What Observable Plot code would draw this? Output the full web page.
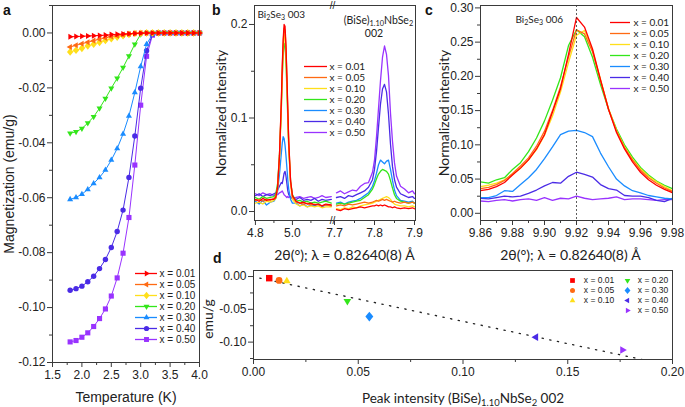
<!DOCTYPE html>
<html><head><meta charset="utf-8">
<script src="https://cdn.jsdelivr.net/npm/d3@7"></script>
<script src="https://cdn.jsdelivr.net/npm/@observablehq/plot@0.6"></script>
<style>
html,body{margin:0;padding:0;background:#fff;}
#fig{position:relative;width:685px;height:407px;overflow:hidden;font-family:"Liberation Sans",Arial,sans-serif;}
.lbl{position:absolute;font-weight:bold;font-size:14px;line-height:14px;color:#111;font-family:"Liberation Sans",Arial,sans-serif;}
</style></head><body><div id="fig"></div>
<script>
// ---------- shared series ----------
const seriesLabels = ["x = 0.01","x = 0.05","x = 0.10","x = 0.20","x = 0.30","x = 0.40","x = 0.50"];
const seriesColors = ["#ff0000","#ff6a13","#ffdf1a","#33e61a","#1a8cff","#4a2be6","#9933ff"];

// ---------- panel a: magnetization vs temperature ----------
const aTemp = [1.8,1.9,2.0,2.1,2.2,2.3,2.4,2.5,2.6,2.7,2.8,2.9,3.0,3.1,3.2,3.3,3.4,3.5,3.6,3.7,3.8,3.9,4.0];
const aM001 = [-0.0014,-0.0013,-0.0012,-0.0011,-0.0010,-0.0009,-0.0008,-0.0006,-0.0005,-0.0004,-0.0003,-0.0002,-0.0001,0,0,0,0,0,0,0,0,0,0];
const aM005 = [-0.0051,-0.0045,-0.0039,-0.0034,-0.0028,-0.0023,-0.0018,-0.0013,-0.0010,-0.0006,-0.0004,-0.0001,0,0,0,0,0,0,0,0,0,0,0];
const aM010 = [-0.0069,-0.0063,-0.0056,-0.0047,-0.0041,-0.0034,-0.0027,-0.0021,-0.0015,-0.0010,-0.0005,-0.0002,-0.0001,0,0,0,0,0,0,0,0,0,0];
const aM020 = [-0.0365,-0.0360,-0.0348,-0.0328,-0.0305,-0.0274,-0.0239,-0.0201,-0.0165,-0.0126,-0.0084,-0.0041,-0.0005,0,0,0,0,0,0,0,0,0,0];
const aM030 = [-0.0606,-0.0599,-0.0587,-0.0570,-0.0548,-0.0526,-0.0499,-0.0463,-0.0421,-0.0368,-0.0302,-0.0217,-0.0122,-0.0041,-0.0005,0,0,0,0,0,0,0,0];
const aM040 = [-0.0937,-0.0931,-0.0922,-0.0906,-0.0886,-0.0858,-0.0825,-0.0781,-0.0723,-0.0645,-0.0526,-0.0375,-0.0201,-0.0065,-0.0005,0,0,0,0,0,0,0,0];
const aM050 = [-0.1125,-0.1120,-0.1108,-0.1092,-0.1069,-0.1040,-0.1005,-0.0958,-0.0892,-0.0802,-0.0672,-0.0481,-0.0263,-0.0085,-0.0008,0,0,0,0,0,0,0,0];
const aXTicks = [1.5,2.0,2.5,3.0,3.5,4.0];
const aXMinor = [1.75,2.25,2.75,3.25,3.75];
const aYTicks = [0,-0.02,-0.04,-0.06,-0.08,-0.10,-0.12];
const aYMinor = [0.01,-0.01,-0.03,-0.05,-0.07,-0.09,-0.11];

// ---------- panel b: XRD broken axis ----------
const bLx = [4.80,4.82,4.84,4.86,4.88,4.90,4.91,4.92,4.93,4.94,4.945,4.95,4.955,4.96,4.965,4.97,4.975,4.98,4.99,5.00,5.02,5.04,5.06,5.08,5.10,5.12,5.14,5.16,5.18,5.21];
const bL001 = [0.013,0.011,0.014,0.012,0.013,0.013,0.015,0.026,0.060,0.118,0.155,0.184,0.200,0.198,0.178,0.146,0.110,0.075,0.033,0.017,0.011,0.009,0.010,0.008,0.009,0.007,0.008,0.006,0.008,0.007];
const bL005 = [0.012,0.013,0.011,0.013,0.012,0.014,0.016,0.027,0.060,0.116,0.152,0.180,0.196,0.194,0.175,0.143,0.108,0.074,0.032,0.016,0.010,0.009,0.008,0.009,0.007,0.008,0.007,0.006,0.007,0.006];
const bL010 = [0.009,0.010,0.008,0.011,0.010,0.012,0.014,0.024,0.056,0.110,0.145,0.173,0.189,0.187,0.168,0.137,0.103,0.070,0.029,0.013,0.008,0.006,0.007,0.005,0.006,0.005,0.006,0.004,0.005,0.005];
const bL020 = [0.015,0.013,0.016,0.014,0.015,0.016,0.019,0.030,0.060,0.110,0.142,0.167,0.180,0.178,0.160,0.131,0.099,0.068,0.032,0.018,0.011,0.012,0.010,0.011,0.009,0.010,0.009,0.010,0.011,0.009];
const bL030 = [0.011,0.008,0.012,0.007,0.010,0.011,0.014,0.022,0.040,0.062,0.073,0.080,0.078,0.071,0.060,0.047,0.034,0.024,0.013,0.009,0.009,0.006,0.008,0.005,0.007,0.006,0.008,0.005,0.007,0.006];
const bL040 = [0.017,0.019,0.016,0.018,0.017,0.019,0.020,0.023,0.027,0.031,0.030,0.035,0.041,0.043,0.038,0.030,0.022,0.018,0.015,0.014,0.013,0.015,0.012,0.013,0.012,0.014,0.011,0.013,0.012,0.013];
const bL050 = [0.019,0.017,0.020,0.018,0.019,0.017,0.019,0.018,0.020,0.021,0.022,0.020,0.018,0.017,0.016,0.015,0.016,0.015,0.016,0.014,0.015,0.016,0.014,0.015,0.016,0.014,0.015,0.017,0.015,0.016];
const bRx = [7.705,7.715,7.725,7.735,7.745,7.755,7.765,7.775,7.785,7.795,7.80,7.805,7.81,7.815,7.82,7.825,7.83,7.835,7.84,7.845,7.85,7.855,7.865,7.875,7.885,7.895,7.90];
const bR001 = [0.002,0.001,0.003,0.002,0.003,0.004,0.005,0.004,0.005,0.006,0.006,0.007,0.006,0.007,0.006,0.007,0.006,0.005,0.005,0.004,0.005,0.004,0.003,0.004,0.003,0.004,0.003];
const bR005 = [0.006,0.007,0.006,0.008,0.007,0.008,0.009,0.010,0.009,0.010,0.011,0.012,0.011,0.012,0.013,0.012,0.013,0.012,0.011,0.010,0.011,0.010,0.009,0.010,0.009,0.010,0.009];
const bR010 = [0.003,0.002,0.004,0.003,0.005,0.004,0.006,0.007,0.008,0.009,0.010,0.011,0.012,0.013,0.014,0.015,0.016,0.015,0.013,0.010,0.008,0.007,0.006,0.006,0.005,0.006,0.005];
const bR020 = [0.008,0.009,0.008,0.009,0.010,0.011,0.012,0.015,0.018,0.024,0.029,0.035,0.040,0.043,0.045,0.044,0.043,0.040,0.033,0.025,0.018,0.014,0.011,0.010,0.009,0.010,0.009];
const bR030 = [0.009,0.010,0.008,0.010,0.011,0.012,0.014,0.017,0.020,0.027,0.033,0.041,0.050,0.055,0.053,0.051,0.054,0.055,0.045,0.033,0.023,0.017,0.012,0.011,0.010,0.011,0.009];
const bR040 = [0.015,0.016,0.014,0.017,0.016,0.018,0.020,0.022,0.026,0.034,0.045,0.064,0.090,0.115,0.131,0.136,0.128,0.104,0.072,0.048,0.034,0.026,0.019,0.017,0.015,0.016,0.014];
const bR050 = [0.020,0.022,0.019,0.021,0.023,0.022,0.027,0.030,0.031,0.042,0.055,0.080,0.110,0.140,0.165,0.177,0.168,0.145,0.105,0.075,0.052,0.038,0.027,0.024,0.020,0.022,0.019];
const bYTicks = [0,0.1,0.2];
const bYMinor = [0.05,0.15];
const bLTicks = [4.8,5.0];
const bLMinor = [4.9,5.1];
const bRTicks = [7.7,7.8,7.9];
const bRMinor = [7.75,7.85];

// ---------- panel c: Bi2Se3 006 ----------
const cx = [9.860,9.865,9.870,9.875,9.880,9.885,9.890,9.895,9.900,9.905,9.910,9.915,9.920,9.925,9.930,9.935,9.940,9.945,9.950,9.955,9.960,9.965,9.970,9.975,9.980];
const c001 = [0.033,0.035,0.039,0.045,0.056,0.066,0.078,0.094,0.115,0.148,0.182,0.232,0.286,0.272,0.240,0.195,0.152,0.118,0.094,0.075,0.060,0.049,0.041,0.035,0.030];
const c005 = [0.036,0.038,0.042,0.048,0.058,0.069,0.081,0.098,0.120,0.150,0.185,0.228,0.268,0.262,0.236,0.194,0.152,0.120,0.096,0.078,0.063,0.052,0.044,0.037,0.032];
const c010 = [0.039,0.041,0.044,0.049,0.057,0.066,0.078,0.093,0.114,0.142,0.177,0.220,0.260,0.267,0.238,0.196,0.153,0.121,0.097,0.079,0.065,0.054,0.046,0.039,0.033];
const c020 = [0.046,0.044,0.049,0.052,0.064,0.074,0.090,0.110,0.135,0.165,0.198,0.245,0.268,0.258,0.228,0.188,0.152,0.123,0.100,0.082,0.067,0.056,0.047,0.041,0.036];
const c030 = [0.023,0.023,0.026,0.033,0.032,0.042,0.052,0.064,0.080,0.097,0.115,0.120,0.121,0.118,0.112,0.088,0.068,0.050,0.040,0.033,0.030,0.026,0.024,0.022,0.021];
const c040 = [0.022,0.021,0.023,0.025,0.024,0.025,0.029,0.034,0.040,0.045,0.044,0.054,0.060,0.057,0.053,0.042,0.036,0.034,0.026,0.025,0.025,0.023,0.019,0.017,0.022];
const c050 = [0.018,0.017,0.019,0.020,0.018,0.020,0.021,0.019,0.023,0.019,0.022,0.021,0.025,0.022,0.020,0.021,0.022,0.024,0.020,0.021,0.021,0.020,0.019,0.020,0.020];
const cPeakRef = [9.92];
const cXTicks = [9.86,9.88,9.90,9.92,9.94,9.96,9.98];
const cXMinor = [9.87,9.89,9.91,9.93,9.95,9.97];
const cYTicks = [0,0.05,0.10,0.15,0.20,0.25,0.30];
const cYMinor = [0.025,0.075,0.125,0.175,0.225,0.275];

// ---------- panel d: emu/g vs peak intensity ----------
const dPeak = [0.0075,0.0122,0.0159,0.0448,0.0553,0.1348,0.1761];
const dEmu = [-0.0025,-0.0060,-0.0070,-0.0375,-0.0610,-0.0925,-0.1120];
const dFitX = [0.003,0.19];
const dFitY = [-0.0024,-0.1296];
const dXTicks = [0,0.05,0.10,0.15,0.20];
const dXMinor = [0.025,0.075,0.125,0.175];
const dYTicks = [0,-0.05,-0.10];
const dYMinor = [-0.025,-0.075,-0.125];

// ---------- symbols ----------
function tri(angle) {
  return {draw(ctx, size) {
    const r = Math.sqrt(size / Math.PI) * 1.3;
    for (let k = 0; k < 3; ++k) {
      const a = angle + k * 2 * Math.PI / 3;
      const px = r * Math.cos(a), py = r * Math.sin(a);
      if (k) ctx.lineTo(px, py); else ctx.moveTo(px, py);
    }
    ctx.closePath();
  }};
}
const symRight = tri(0), symLeft = tri(Math.PI), symDown = tri(Math.PI / 2), symUp = tri(-Math.PI / 2);
const symDiamond = {draw(ctx, size) { const r = Math.sqrt(size / Math.PI) * 1.3; ctx.moveTo(0, -r * 1.1); ctx.lineTo(r * 0.9, 0); ctx.lineTo(0, r * 1.1); ctx.lineTo(-r * 0.9, 0); ctx.closePath(); }};
const symSquare = {draw(ctx, size) { const h = Math.sqrt(size / Math.PI) * 0.95; ctx.rect(-h, -h, 2 * h, 2 * h); }};
const symCircle = {draw(ctx, size) { const r = Math.sqrt(size / Math.PI); ctx.moveTo(r, 0); ctx.arc(0, 0, r, 0, 2 * Math.PI); }};
const aSymbols = [symRight, symLeft, symDiamond, symDown, symUp, symCircle, symSquare];
const dSymbols = [symSquare, symCircle, symUp, symDown, symDiamond, symLeft, symRight];

// ---------- helpers ----------
const ARIAL = "'Liberation Sans', Arial, sans-serif";
const HUM = "Lato, 'Open Sans', sans-serif";
const INK = "#222";
const baseStyle = {background: "transparent", overflow: "visible", fontFamily: ARIAL, fontSize: "12px", color: "#3a3a3a"};
const fig = document.getElementById("fig");
const drawOrder = [6, 5, 4, 3, 2, 1, 0];

function subify(root) {
  root.querySelectorAll("text").forEach(el => {
    const s = el.textContent;
    if (!s.includes("_{")) return;
    while (el.firstChild) el.removeChild(el.firstChild);
    let lowered = false;
    for (const p of s.split(/(_\{[^}]*\})/)) {
      if (!p) continue;
      const ts = document.createElementNS("http://www.w3.org/2000/svg", "tspan");
      if (p.startsWith("_{")) {
        ts.textContent = p.slice(2, -1);
        ts.setAttribute("font-size", "70%");
        ts.setAttribute("dy", "0.3em");
        lowered = true;
      } else {
        ts.textContent = p;
        if (lowered) { ts.setAttribute("dy", "-0.21em"); lowered = false; }
      }
      el.appendChild(ts);
    }
  });
}
function place(node, left, top) {
  node.style.position = "absolute";
  node.style.left = left + "px";
  node.style.top = top + "px";
  subify(node);
  fig.appendChild(node);
}
function letter(t, left, top) {
  const d = document.createElement("div");
  d.className = "lbl"; d.textContent = t;
  d.style.left = left + "px"; d.style.top = top + "px";
  fig.appendChild(d);
}
function axes(xt, xm, yt, ym, xf, yf) {
  const m = [];
  if (xt) m.push(Plot.axisX({ticks: xt, tickSize: 5, tickPadding: 3, tickFormat: xf, label: null, fill: INK}));
  if (xm) m.push(Plot.axisX({ticks: xm, tickSize: 3, tickFormat: () => "", label: null}));
  if (yt) m.push(Plot.axisY({ticks: yt, tickSize: 5, tickPadding: 2, tickFormat: yf, label: null, fill: INK}));
  if (ym) m.push(Plot.axisY({ticks: ym, tickSize: 3, tickFormat: () => "", label: null}));
  return m;
}
function lineMarks(xs, seriesList, width) {
  const m = [];
  for (const i of drawOrder) {
    const data = xs.map((x, j) => ({x, y: seriesList[i][j]}));
    m.push(Plot.line(data, {x: "x", y: "y", stroke: seriesColors[i], strokeWidth: width, clip: true}));
  }
  return m;
}
function makeLegend({labels, colors, symbols = null, line = true, swatch, width, height, padTop, padBottom, textDx, fontSize, fontFamily, r = 2.7}) {
  const items = labels.map((label, i) => ({label, color: colors[i]}));
  const marks = [];
  items.forEach((d, i) => {
    if (line) marks.push(Plot.ruleY([d], {y: "label", stroke: d.color, strokeWidth: 1.3}));
    if (symbols) marks.push(Plot.dot([d], {y: "label", fill: d.color, symbol: symbols[i], r}));
  });
  marks.push(Plot.text(items, {y: "label", text: "label", frameAnchor: "right", textAnchor: "start", lineAnchor: "middle", dx: textDx, fontSize, fontFamily, fill: INK}));
  return Plot.plot({width, height, marginLeft: 0, marginRight: width - swatch, marginTop: padTop, marginBottom: padBottom,
    style: baseStyle, y: {type: "point", domain: labels, padding: 0, axis: null}, marks});
}
const f1 = d => d.toFixed(1), f2 = d => d.toFixed(2);

// ---------- panel a ----------
const aSeries = [aM001, aM005, aM010, aM020, aM030, aM040, aM050];
const aMarks = [];
for (const i of drawOrder) {
  const data = aTemp.map((T, j) => ({T, M: aSeries[i][j]}));
  aMarks.push(Plot.line(data, {x: "T", y: "M", stroke: seriesColors[i], strokeWidth: 1}));
  aMarks.push(Plot.dot(data, {x: "T", y: "M", fill: seriesColors[i], symbol: aSymbols[i], r: 2.7}));
}
place(Plot.plot({
  width: 210, height: 407, marginLeft: 52, marginRight: 11, marginTop: 5, marginBottom: 45,
  style: baseStyle,
  x: {domain: [1.5, 4.0], label: null},
  y: {domain: [-0.12, 0.01], label: null},
  marks: [
    ...aMarks,
    Plot.frame(),
    ...axes(aXTicks, aXMinor, aYTicks, aYMinor, f1, f2),
    Plot.text(["Magnetization (emu/g)"], {text: d => d, frameAnchor: "left", textAnchor: "middle", lineAnchor: "middle", rotate: -90, dx: -43, fontSize: 14, fill: INK}),
    Plot.text(["Temperature (K)"], {text: d => d, frameAnchor: "bottom", textAnchor: "middle", lineAnchor: "middle", dy: 35, fontSize: 14, fill: INK})
  ]
}), 0, 0);
place(makeLegend({labels: seriesLabels, colors: seriesColors, symbols: aSymbols, swatch: 22, width: 72, height: 88, padTop: 8.7, padBottom: 8.7, textDx: 2, fontSize: 10, fontFamily: ARIAL, r: 2.6}), 135, 262);

// ---------- panel b ----------
const bLSeries = [bL001, bL005, bL010, bL020, bL030, bL040, bL050];
const bRSeries = [bR001, bR005, bR010, bR020, bR030, bR040, bR050];
const bY = [-0.0096, 0.2203];
place(Plot.plot({
  width: 132, height: 260, marginLeft: 54, marginRight: 0, marginTop: 5, marginBottom: 40,
  style: baseStyle,
  x: {domain: [4.795, 5.2166], label: null},
  y: {domain: bY, label: null},
  marks: [
    ...lineMarks(bLx, bLSeries, 1.3),
    Plot.frame({anchor: "left"}), Plot.frame({anchor: "top"}), Plot.frame({anchor: "bottom"}),
    ...axes(bLTicks, bLMinor, bYTicks, bYMinor, f1, f1),
    Plot.text(["//"], {text: d => d, frameAnchor: "top-right", textAnchor: "middle", lineAnchor: "middle", fontSize: 10, fill: INK}),
    Plot.text(["//"], {text: d => d, frameAnchor: "bottom-right", textAnchor: "middle", lineAnchor: "middle", fontSize: 10, fill: INK}),
    Plot.text(["Bi_{2}Se_{3} 003"], {text: d => d, frameAnchor: "top-left", textAnchor: "start", lineAnchor: "top", dx: 3, dy: 5, fontSize: 10, fontFamily: HUM, fill: INK}),
    Plot.text(["Normalized intensity"], {text: d => d, frameAnchor: "left", textAnchor: "middle", lineAnchor: "middle", rotate: -90, dx: -33, fontSize: 14, fontFamily: HUM, fill: INK}),
    Plot.text(["2θ(°); λ = 0.82640(8) Å"], {text: d => d, frameAnchor: "bottom-right", textAnchor: "middle", lineAnchor: "middle", dx: 12, dy: 35, fontSize: 14, fontFamily: HUM, fill: INK})
  ]
}), 200, 0);
place(Plot.plot({
  width: 100, height: 260, marginLeft: 0, marginRight: 17, marginTop: 5, marginBottom: 40,
  style: baseStyle,
  x: {domain: [7.695, 7.9025], label: null},
  y: {domain: bY, axis: null, label: null},
  marks: [
    ...lineMarks(bRx, bRSeries, 1.3),
    Plot.frame({anchor: "right"}), Plot.frame({anchor: "top"}), Plot.frame({anchor: "bottom"}),
    ...axes(bRTicks, bRMinor, null, null, f1, f1),
    Plot.text(["(BiSe)_{1.10}NbSe_{2}"], {text: d => d, frameAnchor: "top", textAnchor: "middle", lineAnchor: "middle", dx: 4.5, dy: 15, fontSize: 10.5, fontFamily: HUM, fill: INK}),
    Plot.text(["002"], {text: d => d, frameAnchor: "top", textAnchor: "middle", lineAnchor: "middle", dx: 0, dy: 28, fontSize: 10.5, fontFamily: HUM, fill: INK})
  ]
}), 332, 0);
place(makeLegend({labels: seriesLabels, colors: seriesColors, swatch: 23, width: 72, height: 87, padTop: 8.3, padBottom: 8.7, textDx: 2, fontSize: 10, fontFamily: HUM}), 304, 56);

// ---------- panel c ----------
const cSeries = [c001, c005, c010, c020, c030, c040, c050];
place(Plot.plot({
  width: 260, height: 260, marginLeft: 55, marginRight: 13, marginTop: 5, marginBottom: 40,
  style: baseStyle,
  x: {domain: [9.86, 9.98], label: null},
  y: {domain: [-0.0105, 0.3035], label: null},
  marks: [
    ...lineMarks(cx, cSeries, 1.3),
    Plot.ruleX(cPeakRef, {x: d => d, stroke: "#333", strokeWidth: 0.8, strokeDasharray: "2,2"}),
    Plot.frame(),
    ...axes(cXTicks, cXMinor, cYTicks, cYMinor, f2, f2),
    Plot.text(["Bi_{2}Se_{3} 006"], {text: d => d, frameAnchor: "top-left", textAnchor: "start", lineAnchor: "top", dx: 35, dy: 10, fontSize: 10, fontFamily: HUM, fill: INK}),
    Plot.text(["Normalized intensity"], {text: d => d, frameAnchor: "left", textAnchor: "middle", lineAnchor: "middle", rotate: -90, dx: -36, fontSize: 14, fontFamily: HUM, fill: INK}),
    Plot.text(["2θ(°); λ = 0.82640(8) Å"], {text: d => d, frameAnchor: "bottom", textAnchor: "middle", lineAnchor: "middle", dx: -6, dy: 35, fontSize: 14, fontFamily: HUM, fill: INK})
  ]
}), 425, 0);
place(makeLegend({labels: seriesLabels, colors: seriesColors, swatch: 20, width: 75, height: 86, padTop: 8, padBottom: 8.7, textDx: 3, fontSize: 10, fontFamily: HUM}), 610, 12);

// ---------- panel d ----------
const dData = dPeak.map((p, i) => ({p, m: dEmu[i]}));
const dFit = dFitX.map((p, i) => ({p, m: dFitY[i]}));
place(Plot.plot({
  width: 485, height: 157, marginLeft: 53, marginRight: 13, marginTop: 20, marginBottom: 48,
  style: baseStyle,
  x: {domain: [0, 0.2], label: null},
  y: {domain: [-0.1265, 0.0092], label: null},
  marks: [
    Plot.line(dFit, {x: "p", y: "m", stroke: "#222", strokeWidth: 1.3, strokeDasharray: "1.3,6.5", clip: true}),
    ...dData.map((d, i) => Plot.dot([d], {x: "p", y: "m", fill: seriesColors[i], symbol: dSymbols[i], r: 3.4})),
    Plot.frame(),
    ...axes(dXTicks, dXMinor, dYTicks, dYMinor, f2, f2),
    Plot.text(["emu/g"], {text: d => d, frameAnchor: "left", textAnchor: "middle", lineAnchor: "middle", rotate: -90, dx: -45, dy: 4, fontSize: 14, fontFamily: HUM, fill: INK}),
    Plot.text(["Peak intensity (BiSe)_{1.10}NbSe_{2} 002"], {text: d => d, frameAnchor: "bottom", textAnchor: "middle", lineAnchor: "middle", dx: 0, dy: 39, fontSize: 13.5, fontFamily: HUM, fill: INK})
  ]
}), 200, 250);
place(makeLegend({labels: seriesLabels.slice(0, 3), colors: seriesColors.slice(0, 3), symbols: dSymbols.slice(0, 3), line: false, swatch: 10, width: 60, height: 30, padTop: 5, padBottom: 5, textDx: 6.3, fontSize: 8.5, fontFamily: ARIAL, r: 2.5}), 566.7, 275);
place(makeLegend({labels: seriesLabels.slice(3), colors: seriesColors.slice(3), symbols: dSymbols.slice(3), line: false, swatch: 10, width: 60, height: 40, padTop: 5, padBottom: 5, textDx: 5.3, fontSize: 8.5, fontFamily: ARIAL, r: 2.5}), 621.7, 275);

// ---------- panel letters ----------
letter("a", 3, 3);
letter("b", 212, 3);
letter("c", 425, 3);
letter("d", 213, 251);
</script></body></html>
